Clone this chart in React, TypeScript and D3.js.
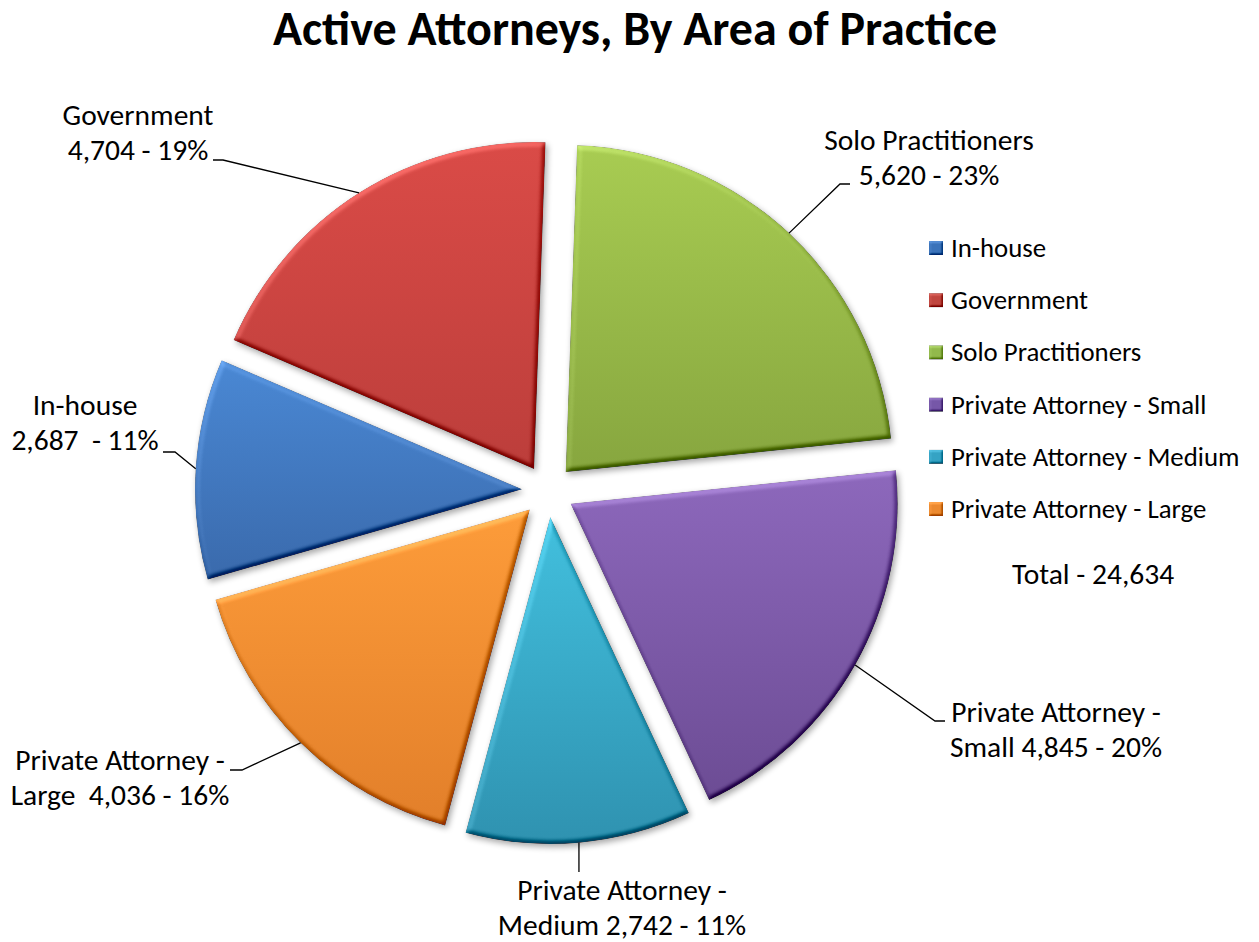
import React from "react";
import * as d3 from "d3";

const categories = [
  "In-house",
  "Government",
  "Solo Practitioners",
  "Private Attorney - Small",
  "Private Attorney - Medium",
  "Private Attorney - Large",
];
const values = [2687, 4704, 5620, 4845, 2742, 4036];
const labelLine1 = ["In-house", "Government", "Solo Practitioners", "Private Attorney -", "Private Attorney -", "Private Attorney -"];
const labelLine2 = ["2,687  - 11%", "4,704 - 19%", "5,620 - 23%", "Small 4,845 - 20%", "Medium 2,742 - 11%", "Large  4,036 - 16%"];
const totalLabel = "Total - 24,634";
const title = "Active Attorneys, By Area of Practice";

const colorTop = ["#4a88d4", "#da4b47", "#a8cc52", "#8d68bc", "#42c0de", "#fd9c3a"];
const colorBottom = ["#3a6aac", "#bc3e3b", "#87a63f", "#6c4c94", "#2f92b0", "#e27f2a"];
const legendColor = ["#3b73ba", "#c0463f", "#92b94c", "#7657a8", "#35a3c4", "#ec8a30"];

// label layout: text center x, first baseline y, leader elbow points (from text side toward pie)
const labelLayout = [
  { x: 85, y: 415, leader: [[163, 452], [175, 452]] },
  { x: 138, y: 125, leader: [[213, 160], [223, 160]] },
  { x: 929, y: 150, leader: [[850, 184], [840, 184]] },
  { x: 1056, y: 722, leader: [[945, 721], [935, 721]] },
  { x: 622, y: 900, leader: [] as number[][], vertical: 872 },
  { x: 120, y: 770, leader: [[230, 770], [242, 770]] },
];

const W = 1259;
const H = 942;
const CX = 548;
const CY = 491;
const R = 327;
const EXPLODE = 26;
const OFFSET = (2 * Math.PI) / 180; // 2 degrees rotation of the first (Solo) edge

export default function App() {
  const total = d3.sum(values);
  const start = OFFSET - (2 * Math.PI * (values[0] + values[1])) / total;
  const pie = d3
    .pie<number>()
    .sort(null)
    .value((d) => d)
    .startAngle(start)
    .endAngle(start + 2 * Math.PI);
  const arcs = pie(values);
  const arc = d3.arc<d3.PieArcDatum<number>>().innerRadius(0).outerRadius(R);

  const font = "Calibri, Carlito, Lato, sans-serif";
  const labelSize = 29.5;
  const legendSize = 26.8;

  return (
    <svg
      width={W}
      height={H}
      viewBox={`0 0 ${W} ${H}`}
      style={{ position: "absolute", left: 0, top: 0, background: "#fff" }}
      fontFamily={font}
    >
      <defs>
        <filter id="bevel" x="-10%" y="-10%" width="125%" height="125%" colorInterpolationFilters="sRGB">
          <feGaussianBlur in="SourceAlpha" stdDeviation="2.5" result="blur" />
          <feDiffuseLighting in="blur" surfaceScale="4" diffuseConstant="0.707" lightingColor="#ffffff" result="diff">
            <feDistantLight azimuth="240" elevation="45" />
          </feDiffuseLighting>
          <feComposite in="SourceGraphic" in2="diff" operator="arithmetic" k1="0" k2="1" k3="0.6" k4="-0.3" result="lit" />
          <feComposite in="lit" in2="SourceAlpha" operator="in" result="litc" />
          <feGaussianBlur in="SourceAlpha" stdDeviation="3" result="sb" />
          <feOffset in="sb" dx="2" dy="3" result="so" />
          <feComponentTransfer in="so" result="shadow">
            <feFuncA type="linear" slope="0.35" />
          </feComponentTransfer>
          <feMerge>
            <feMergeNode in="shadow" />
            <feMergeNode in="litc" />
          </feMerge>
        </filter>
        <filter id="bevelSmall" x="-20%" y="-20%" width="150%" height="150%" colorInterpolationFilters="sRGB">
          <feGaussianBlur in="SourceAlpha" stdDeviation="1" result="blur" />
          <feDiffuseLighting in="blur" surfaceScale="2" diffuseConstant="0.707" lightingColor="#ffffff" result="diff">
            <feDistantLight azimuth="240" elevation="45" />
          </feDiffuseLighting>
          <feComposite in="SourceGraphic" in2="diff" operator="arithmetic" k1="0" k2="1" k3="0.6" k4="-0.3" result="lit" />
          <feComposite in="lit" in2="SourceAlpha" operator="in" />
        </filter>
        {categories.map((c, i) => (
          <linearGradient key={c} id={`g${i}`} x1="0" y1="0" x2="0" y2="1">
            <stop offset="0%" stopColor={colorTop[i]} />
            <stop offset="100%" stopColor={colorBottom[i]} />
          </linearGradient>
        ))}
      </defs>

      <text x={635} y={45} textAnchor="middle" fontWeight="bold" fontSize={48} fill="#000">
        {title}
      </text>

      {arcs.map((a, i) => {
        const mid = (a.startAngle + a.endAngle) / 2;
        const dx = Math.sin(mid) * EXPLODE;
        const dy = -Math.cos(mid) * EXPLODE;
        return (
          <g key={categories[i]} transform={`translate(${CX + dx},${CY + dy})`}>
            <path d={arc(a) || ""} fill={`url(#g${i})`} filter="url(#bevel)" />
          </g>
        );
      })}

      {arcs.map((a, i) => {
        const mid = (a.startAngle + a.endAngle) / 2;
        const dx = Math.sin(mid) * EXPLODE;
        const dy = -Math.cos(mid) * EXPLODE;
        const px = CX + dx + Math.sin(mid) * R;
        const py = CY + dy - Math.cos(mid) * R;
        const L = labelLayout[i];
        const pts: number[][] = L.vertical !== undefined ? [[px, L.vertical], [px, py]] : [...L.leader, [px, py]];
        const line = d3.line()(pts as [number, number][]) || "";
        return (
          <g key={`lab${i}`}>
            <path d={line} fill="none" stroke="#000" strokeWidth={1.3} />
            <text x={L.x} y={L.y} textAnchor="middle" fontSize={labelSize} fill="#000" style={{ whiteSpace: "pre" }}>
              {labelLine1[i]}
            </text>
            <text x={L.x} y={L.y + 35} textAnchor="middle" fontSize={labelSize} fill="#000" style={{ whiteSpace: "pre" }}>
              {labelLine2[i]}
            </text>
          </g>
        );
      })}

      {categories.map((c, i) => {
        const y = 248 + i * 52.2;
        return (
          <g key={`leg${i}`}>
            <rect x={929} y={y - 7} width={14} height={14} fill={legendColor[i]} filter="url(#bevelSmall)" />
            <text x={951} y={y + 9} fontSize={legendSize} fill="#000">
              {c}
            </text>
          </g>
        );
      })}
      <text x={1093} y={584} textAnchor="middle" fontSize={labelSize} fill="#000">
        {totalLabel}
      </text>
    </svg>
  );
}
